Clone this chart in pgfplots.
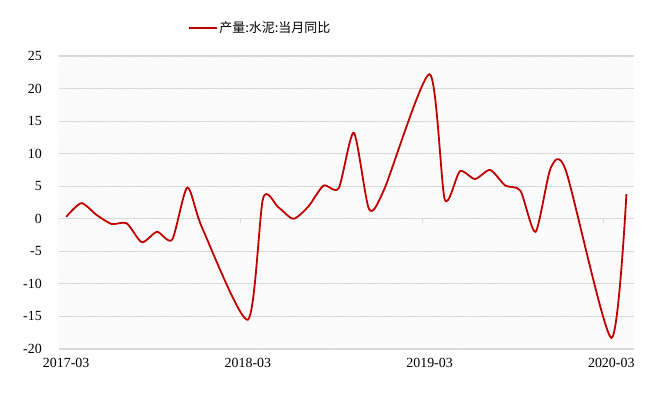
\documentclass[border=0pt]{standalone}
\usepackage{pgfplots}
\pgfplotsset{compat=1.18}
\usepackage{fontspec}
\setmainfont{Liberation Serif}
\newfontfamily\cjk{Noto Sans CJK SC}
\usetikzlibrary{patterns}
\definecolor{linered}{HTML}{C00000}
\definecolor{gridgray}{HTML}{D9D9D9}
\begin{document}
\begin{tikzpicture}
\useasboundingbox (-58.6bp,-59bp) rectangle (612.4bp,349bp);
\begin{axis}[
  scale only axis, width=575.4bp, height=293bp,
  at={(0,0)}, anchor=south west,
  xmin=-0.5, xmax=37.5, ymin=-20, ymax=25,
  axis line style={draw=none},
  ytick={-20,-15,...,25},
  ymajorgrids, grid style={gridgray, line width=1.2bp},
  xtick={0,12,24,36}, xticklabels={2017-03,2018-03,2019-03,2020-03},
  major tick length=0pt,
  tick label style={font=\fontsize{14}{16}\selectfont},
  /pgf/number format/assume math mode=true,
  yticklabel style={inner sep=0pt, xshift=-16.6bp, anchor=east},
  xticklabel style={inner sep=0pt, yshift=-9bp, anchor=north},
  axis background/.style={pattern=north east lines, pattern color=black!6},
  legend style={at={(0.35,1.0956)}, anchor=center, draw=none, fill=none,
    font=\cjk\fontsize{13}{15}\selectfont},
  legend image code/.code={\draw[#1] (0bp,0bp) -- (28bp,0bp);},
]
\addplot[linered, line width=1.8bp, smooth, tension=0.42] coordinates {
(0,0.3) (1,2.4) (2,0.6) (3,-0.8) (4,-0.7) (5,-3.6) (6,-2.0) (7,-3.2) (8,4.8) (9,-1.5)
(12,-15.5) (13,3.1) (14,1.8) (15,0.0) (16,1.9) (17,5.1) (18,4.7) (19,13.2) (20,1.5) (21,4.5)
(24,22.2) (25,3.0) (26,7.3) (27,6.1) (28,7.5) (29,5.1) (30,4.3) (31,-2.0) (32,7.8) (33,7.4)
(36,-18.3) (37,3.8)
};
\addlegendentry{产量:水泥:当月同比}
\pgfplotsinvokeforeach{-0.5,11.5,23.5,35.5}{\draw[gridgray, line width=1bp] (axis cs:#1,0) -- ([yshift=-4bp]axis cs:#1,0);}
\end{axis}
\end{tikzpicture}
\end{document}
